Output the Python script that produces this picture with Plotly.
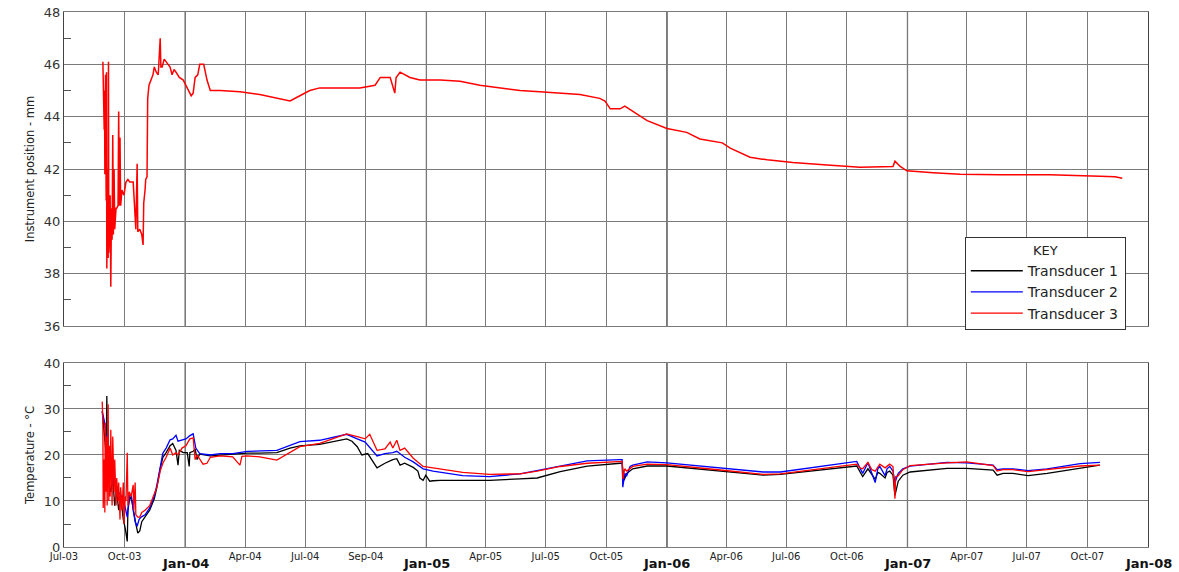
import pandas as pd
import plotly.graph_objects as go
from plotly.subplots import make_subplots

START = pd.Timestamp("2003-07-01")

# ---- top panel: instrument position (mm), days since 2003-07-01 ----
pos_day = [59, 61, 61.5, 62, 63, 64, 64.5, 65, 66, 67, 67.5, 68, 70, 71, 72, 73, 74, 75, 76, 77,
           79, 80, 82, 83, 84, 85, 86, 88, 91, 94, 97, 100, 105, 108, 109, 111, 112, 115, 118, 120,
           121, 123, 124, 126, 127, 129, 132, 135, 137, 140, 143, 146, 147, 149, 152, 155, 158, 161,
           164, 167, 170, 175, 181, 185, 190, 193, 196, 199, 203, 206, 209, 212, 217, 222, 237, 267,
           297, 328, 343, 358, 373, 388, 419, 449, 472, 480, 495, 502, 504, 510, 525, 540, 571, 601,
           631, 662, 692, 722, 753, 783, 813, 821, 829, 844, 851, 874, 885, 915, 945, 965, 999, 1011,
           1041, 1067, 1106, 1158, 1208, 1258, 1261, 1269, 1279, 1319, 1360, 1420, 1496, 1572, 1595, 1606]
pos_val = [46.1, 43.5, 45.0, 41.8, 45.6, 40.8, 45.7, 38.2, 42.0, 38.6, 46.1, 38.8, 41.0, 37.5, 40.5,
           39.3, 43.3, 39.5, 42.0, 39.7, 40.5, 40.5, 40.6, 44.2, 40.6, 43.2, 40.6, 41.2, 41.0, 41.5,
           41.6, 41.5, 41.5, 40.0, 39.7, 42.2, 39.6, 39.7, 39.5, 39.1, 40.7, 41.2, 41.6, 41.7, 44.7,
           45.2, 45.4, 45.6, 45.9, 45.7, 45.6, 47.0, 45.9, 45.9, 46.2, 46.1, 46.0, 45.9, 45.6, 45.8,
           45.7, 45.5, 45.4, 45.2, 45.0, 44.8, 44.9, 45.5, 45.6, 46.0, 46.0, 46.0, 45.4, 45.0, 45.0,
           44.95, 44.85, 44.7, 44.6, 44.8, 45.0, 45.1, 45.1, 45.1, 45.2, 45.5, 45.5, 44.9, 45.5, 45.7,
           45.5, 45.4, 45.4, 45.35, 45.2, 45.1, 45.0, 44.95, 44.9, 44.85, 44.7, 44.6, 44.3, 44.3, 44.4,
           44.05, 43.85, 43.55, 43.4, 43.15, 43.0, 42.8, 42.45, 42.35, 42.25, 42.15, 42.07, 42.1, 42.3,
           42.1, 41.93, 41.86, 41.8, 41.78, 41.78, 41.72, 41.7, 41.65]

# ---- bottom panel: temperature (degC) ----
t1_day = [58, 61, 64, 65, 66, 68, 71, 74, 77, 80, 83, 86, 90, 93, 96, 97, 100, 103, 106, 109, 112,
          115, 118, 123, 130, 137, 141, 146, 150, 155, 161, 165, 170, 173, 175, 181, 187, 190, 191,
          196, 199, 202, 206, 222, 237, 256, 278, 297, 323, 343, 358, 388, 429, 437, 445, 452, 461,
          475, 487, 499, 505, 510, 517, 530, 537, 540, 545, 549, 555, 560, 571, 605, 646, 692, 718,
          753, 794, 844, 847, 850, 854, 863, 885, 915, 985, 1061, 1087, 1188, 1203, 1212, 1217, 1220,
          1231, 1235, 1238, 1246, 1249, 1253, 1258, 1261, 1266, 1273, 1284, 1340, 1370, 1410, 1416,
          1425, 1440, 1463, 1492, 1542, 1572]
t1_val = [29.5, 25, 20, 32.8, 16, 14, 12, 15, 9, 12, 8, 11, 6, 4, 1.2, 8, 11, 10, 7, 5, 3, 3.5, 5.5,
          6.5, 8, 10.5, 13, 17, 19.5, 20.5, 22, 22.5, 21, 17.8, 21, 20.5, 20.5, 17.5, 20.5, 20.8,
          21.3, 19, 20.2, 19.8, 20.0, 20.2, 20.4, 20.4, 20.5, 21.5, 22.0, 22.3, 23.5, 23.0, 21.8,
          20.0, 20.3, 17.2, 18.2, 19.0, 19.2, 17.8, 18.2, 17.3, 16.5, 15.0, 14.5, 15.6, 14.3, 14.4,
          14.5, 14.5, 14.5, 14.8, 15.0, 16.4, 17.6, 18.2, 18.2, 14.5, 16.0, 17.0, 17.6, 17.6, 16.6,
          15.6, 15.8, 17.5, 17.6, 15.3, 16.5, 17.0, 14.7, 16.2, 16.0, 15.0, 16.2, 16.5, 15.6, 11.2,
          14.3, 15.6, 16.3, 17.1, 17.1, 16.7, 15.6, 16.0, 16.0, 15.5, 16.0, 17.2, 17.8]

t2_day = [58, 61, 64, 67, 70, 73, 76, 79, 82, 85, 90, 93, 96, 99, 102, 105, 108, 111, 114, 117, 123,
          130, 137, 141, 146, 150, 155, 161, 165, 170, 173, 179, 185, 191, 196, 200, 206, 222, 237,
          256, 278, 323, 343, 358, 388, 429, 445, 457, 475, 487, 499, 505, 517, 530, 545, 560, 605,
          646, 692, 753, 794, 844, 847, 848, 851, 854, 859, 863, 885, 915, 985, 1061, 1087, 1188,
          1203, 1212, 1217, 1220, 1231, 1235, 1238, 1246, 1249, 1253, 1258, 1261, 1266, 1273, 1284,
          1340, 1370, 1410, 1416, 1425, 1440, 1463, 1492, 1542, 1572]
t2_val = [29.5, 27.5, 24, 21, 18, 16, 14, 13, 12, 11.5, 10.5, 8.5, 6.5, 11, 11.5, 8, 5.5, 4.5, 6,
          6.5, 7, 8.5, 11, 13.5, 17.5, 20.4, 21.5, 23.3, 23.5, 24.3, 23, 23.2, 23.5, 24.2, 24.6,
          21.5, 20.3, 20.0, 20.3, 20.3, 20.8, 21.0, 22.0, 22.9, 23.2, 24.5, 23.5, 22.8, 19.8, 20.3,
          20.5, 20.8, 19.5, 18.5, 17.0, 16.5, 15.5, 15.3, 15.9, 17.6, 18.7, 19.0, 19.0, 13.0, 16.0,
          15.5, 17.5, 17.8, 18.5, 18.3, 17.3, 16.3, 16.3, 18.2, 18.6, 16.0, 17.5, 18.3, 14.0, 17.0,
          17.5, 15.5, 17.0, 17.5, 16.5, 14.0, 16.0, 17.0, 17.6, 18.4, 18.3, 17.8, 16.8, 17.0, 17.0,
          16.6, 17.0, 18.1, 18.4]

t3_day = [58, 59, 59.5, 61, 62, 62.5, 64, 65, 65.5, 67, 68, 69, 70, 71, 73, 74, 76, 77, 79, 80, 82,
          83, 85, 86, 88, 90, 91, 93, 94, 96, 97, 99, 102, 105, 106, 108, 109, 112, 115, 118, 123,
          130, 137, 141, 146, 150, 155, 161, 165, 170, 173, 179, 185, 191, 196, 199, 202, 206, 211,
          217, 222, 237, 256, 267, 270, 278, 297, 323, 343, 358, 388, 429, 445, 457, 464, 475, 487,
          495, 499, 505, 510, 517, 530, 545, 560, 605, 646, 692, 718, 753, 794, 844, 847, 848, 851,
          854, 863, 885, 915, 985, 1061, 1087, 1188, 1203, 1208, 1212, 1220, 1226, 1231, 1238, 1246,
          1253, 1258, 1261, 1262, 1266, 1273, 1284, 1340, 1370, 1410, 1416, 1425, 1440, 1463, 1492,
          1542, 1572]
t3_val = [31.6, 27, 8.5, 19, 7.5, 27, 12, 24, 9, 31, 10, 22, 11, 25.5, 9, 24, 12, 19, 9, 15, 10,
          14, 6, 13, 8, 14, 5, 11, 10, 20.5, 9, 12, 11, 13.5, 8, 14, 7, 6.5, 6.5, 7.5, 8, 9, 11.5,
          13, 16.5, 18.2, 19.5, 21.5, 20, 20.5, 20, 21.5, 22, 23.5, 23.7, 19, 20, 19, 18, 18.2, 19.5,
          19.8, 19.6, 17.8, 19.7, 19.8, 19.6, 18.9, 20.5, 21.8, 22.5, 24.6, 24.0, 23.5, 24.5, 21.0,
          21.3, 22.8, 21.5, 23.2, 21, 21.5, 19.3, 17.5, 17.2, 16.2, 15.8, 15.9, 16.5, 17.5, 18.2,
          18.6, 18.6, 14.8, 17.0, 16.5, 17.5, 18.0, 17.9, 16.9, 15.8, 15.9, 17.8, 18.0, 17.2, 17.0,
          18.4, 16.8, 16.5, 18.0, 17.2, 18.0, 17.5, 10.5, 15.3, 15.5, 16.8, 17.7, 18.3, 18.5, 17.7,
          16.5, 16.8, 16.8, 16.4, 16.8, 17.6, 17.8]

tick_dates = ["2003-07-01", "2003-10-01", "2004-01-01", "2004-04-01", "2004-07-01", "2004-10-01",
              "2005-01-01", "2005-04-01", "2005-07-01", "2005-10-01", "2006-01-01", "2006-04-01",
              "2006-07-01", "2006-10-01", "2007-01-01", "2007-04-01", "2007-07-01", "2007-10-01",
              "2008-01-01"]
tick_labels = ["Jul-03", "Oct-03", "Jan-04", "Apr-04", "Jul-04", "Sep-04", "Jan-05", "Apr-05",
               "Jul-05", "Oct-05", "Jan-06", "Apr-06", "Jul-06", "Oct-06", "Jan-07", "Apr-07",
               "Jul-07", "Oct-07", "Jan-08"]
series_names = ["Transducer 1", "Transducer 2", "Transducer 3"]
series_colors = ["#000000", "#0000ff", "#ff0000"]


def to_dates(days):
    return START + pd.to_timedelta(days, unit="D")


fig = make_subplots(rows=2, cols=1, shared_xaxes=False)

fig.add_trace(go.Scatter(x=to_dates(pos_day), y=pos_val, mode="lines", name="Transducer 3",
                         line=dict(color="#ff0000", width=1.5), showlegend=False), row=1, col=1)

for d, v, n, c in zip([t1_day, t2_day, t3_day], [t1_val, t2_val, t3_val], series_names, series_colors):
    fig.add_trace(go.Scatter(x=to_dates(d), y=v, mode="lines", name=n,
                             line=dict(color=c, width=1.3)), row=2, col=1)

# January labels are drawn separately (bold, lower row)
ticktext = ["" if lab.startswith("Jan") else lab for lab in tick_labels]

FONT = "DejaVu Sans, Verdana, sans-serif"
grid_col = "#7a7a7a"
xcommon = dict(type="date", range=["2003-07-01", "2008-01-01"], tickvals=tick_dates,
               showgrid=True, gridcolor=grid_col, gridwidth=1.2, showline=True, linecolor=grid_col,
               linewidth=1.2, mirror=True, ticks="", zeroline=False, automargin=False)
fig.update_xaxes(**xcommon, showticklabels=False, row=1, col=1)
fig.update_xaxes(**xcommon, ticktext=ticktext, showticklabels=True,
                 tickfont=dict(size=10, color="#222222", family=FONT), tickangle=0, row=2, col=1)

for d, lab in zip(tick_dates, tick_labels):
    if lab.startswith("Jan"):
        fig.add_annotation(x=d, xref="x2", y=0, yref="paper", yanchor="middle", yshift=-16,
                           text="<b>%s</b>" % lab, showarrow=False,
                           font=dict(size=13, color="#111111", family=FONT))

ycommon = dict(showgrid=True, gridcolor=grid_col, gridwidth=1.2, showline=True,
               linecolor="#444444", linewidth=1.2, mirror=True, zeroline=False, ticks="",
               automargin=False, tickfont=dict(size=13, color="#333333", family=FONT))
fig.update_yaxes(**ycommon, range=[36, 48], dtick=2, domain=[0.413, 1.0],
                 minor=dict(dtick=1, ticks="inside", ticklen=7, tickcolor="#555555", showgrid=False),
                 title=dict(text="Instrument position - mm",
                            font=dict(size=11.5, color="#222222", family=FONT), standoff=6),
                 row=1, col=1)
fig.update_yaxes(**ycommon, range=[0, 40], dtick=10, domain=[0.0, 0.344],
                 minor=dict(dtick=5, ticks="inside", ticklen=7, tickcolor="#555555", showgrid=False),
                 title=dict(text="Temperature - °C", font=dict(size=11.5, color="#222222", family=FONT),
                            standoff=6),
                 row=2, col=1)

# darker January gridlines
for d, lab in zip(tick_dates, tick_labels):
    if lab.startswith("Jan") and d != "2008-01-01":
        for xr, yr in (("x", "y domain"), ("x2", "y2 domain")):
            fig.add_shape(type="line", x0=d, x1=d, y0=0, y1=1, xref=xr, yref=yr,
                          line=dict(color="#222222", width=1.2), layer="below")

fig.update_layout(
    width=1179, height=572,
    margin=dict(l=64, r=31, t=12, b=25),
    paper_bgcolor="white", plot_bgcolor="white",
    font=dict(family=FONT, color="#222222"),
    legend=dict(x=0.831, y=0.579, xanchor="left", yanchor="top",
                bgcolor="white", bordercolor="#333333", borderwidth=1,
                font=dict(size=14, color="#222222", family=FONT), itemwidth=52, tracegroupgap=0,
                title=dict(text="KEY", side="top center", font=dict(size=13, family=FONT))),
)

fig.write_html("out.html")
